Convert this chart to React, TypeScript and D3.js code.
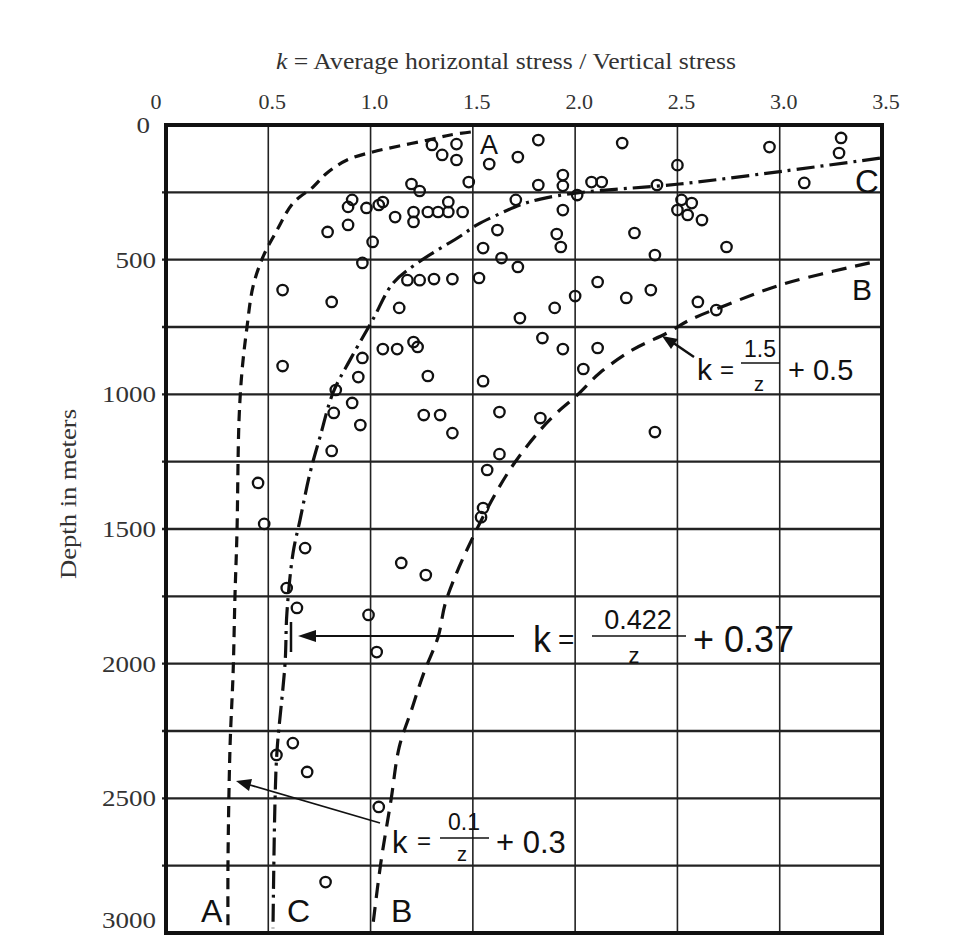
import * as d3 from 'd3';

// k values on the x axis (top), depth on the y axis (downwards)
const kTicks = [0, 0.5, 1.0, 1.5, 2.0, 2.5, 3.0, 3.5];
const kTickLabels = ['0', '0.5', '1.0', '1.5', '2.0', '2.5', '3.0', '3.5'];
const depthTicks = [0, 500, 1000, 1500, 2000, 2500, 3000];
const depthGrid = [250, 500, 750, 1000, 1250, 1500, 1750, 2000, 2250, 2500, 2750];
const kGrid = [0.5, 1.0, 1.5, 2.0, 2.5, 3.0];

const pointK = [
  1.30, 1.35, 1.42, 1.42, 1.58, 1.72, 1.82, 2.23, 2.95, 3.30, 3.29, 2.50,
  1.48, 1.20, 1.24, 1.06, 1.38, 1.12, 1.21, 1.21, 1.28, 1.33, 1.38, 1.45,
  1.71, 1.62, 1.82, 1.94, 1.94, 2.01, 2.08, 2.13, 2.40, 3.12, 2.52, 2.57,
  2.55, 2.62, 2.50, 1.94, 1.91, 1.93, 2.29, 2.39, 2.74, 1.64, 1.72, 0.91,
  0.89, 0.98, 1.04, 0.89, 0.79, 1.01, 0.96, 1.55, 1.18, 1.24, 1.31, 1.40,
  1.53, 1.14, 0.57, 0.81, 1.06, 1.13, 1.21, 1.23, 0.96, 0.57, 0.94, 1.28,
  1.55, 0.83, 2.11, 2.00, 1.90, 1.73, 2.25, 2.37, 2.60, 2.69, 1.84, 1.94,
  2.11, 2.04, 1.83, 2.39, 0.91, 0.82, 0.95, 0.81, 1.26, 1.34, 1.40, 1.63,
  1.63, 1.57, 1.55, 1.54, 0.45, 0.48, 0.68, 1.15, 1.27, 0.59, 0.64, 0.99,
  1.03, 0.62, 0.54, 0.69, 1.04, 0.78,
];
const pointDepth = [
  74, 111, 71, 130, 145, 119, 56, 67, 82, 48, 104, 149,
  212, 219, 245, 286, 286, 342, 323, 360, 323, 323, 323, 323,
  278, 390, 223, 186, 226, 260, 212, 212, 223, 215, 278, 290,
  334, 353, 316, 316, 405, 453, 401, 483, 453, 494, 527, 278,
  304, 308, 297, 371, 397, 434, 512, 457, 576, 576, 572, 572,
  568, 679, 613, 657, 832, 832, 806, 824, 865, 895, 936, 932,
  951, 984, 583, 635, 679, 717, 642, 613, 657, 687, 791, 832,
  828, 906, 1088, 1140, 1032, 1069, 1114, 1210, 1077, 1077, 1144, 1066,
  1222, 1281, 1422, 1456, 1329, 1481, 1571, 1626, 1671, 1719, 1793, 1819,
  1957, 2295, 2339, 2402, 2532, 2811,
];

// curve A: k = 0.1/z + 0.3 (lower bound)
const curveAK = [1.49, 1.39, 1.28, 1.14, 1.01, 0.885, 0.787, 0.719, 0.621, 0.543, 0.474, 0.425, 0.396, 0.372, 0.357, 0.347, 0.337, 0.328, 0.313, 0.303, 0.303];
const curveADepth = [26, 37, 56, 78, 100, 130, 178, 230, 290, 390, 490, 601, 750, 910, 1095, 1511, 1753, 2035, 2309, 2740, 2990];

// curve B: k = 1.5/z + 0.5 (upper bound)
const curveBK = [3.44, 3.02, 2.74, 2.56, 2.45, 2.28, 2.12, 2.01, 1.91, 1.83, 1.68, 1.51, 1.37, 1.33, 1.26, 1.20, 1.14, 1.10, 1.05, 1.01];
const curveBDepth = [512, 590, 668, 724, 772, 835, 921, 1003, 1069, 1132, 1281, 1515, 1764, 1901, 2035, 2172, 2310, 2506, 2740, 2980];

// curve C: k = 0.422/z + 0.37 (mean)
const curveCK = [3.49, 3.02, 2.51, 2.01, 1.83, 1.73, 1.63, 1.52, 1.44, 1.23, 1.11, 1.01, 0.899, 0.816, 0.753, 0.704, 0.655, 0.621, 0.591, 0.582, 0.543, 0.533, 0.523];
const curveCDepth = [123, 171, 219, 252, 275, 297, 330, 371, 412, 512, 587, 724, 873, 995, 1158, 1292, 1467, 1589, 1812, 1998, 2321, 2506, 2982];

const serif = '"Liberation Serif", "Times New Roman", serif';
const sans = '"Liberation Sans", Arial, sans-serif';

export default function App() {
  const x = d3.scaleLinear().domain([0, 3.5]).range([166, 882]);
  const y = d3.scaleLinear().domain([0, 3000]).range([125, 933]);

  const makePath = (ks: number[], ds: number[]) =>
    d3
      .line<number>()
      .x((k) => x(k))
      .y((_, i) => y(ds[i]))
      .curve(d3.curveCatmullRom.alpha(0.5))(ks) || '';

  return (
    <svg
      width={960}
      height={951}
      style={{ position: 'absolute', left: 0, top: 0, background: '#fff' }}
    >
      {/* axis titles */}
      <text
        x={506}
        y={69}
        textAnchor="middle"
        fontFamily={serif}
        fontSize={24}
        fill="#333"
        textLength={460}
        lengthAdjust="spacingAndGlyphs"
      >
        <tspan fontStyle="italic">k</tspan> = Average horizontal stress / Vertical stress
      </text>
      <text
        transform="translate(76,494) rotate(-90)"
        textAnchor="middle"
        fontFamily={serif}
        fontSize={23}
        fill="#333"
        textLength={170}
        lengthAdjust="spacingAndGlyphs"
      >
        Depth in meters
      </text>

      {/* k tick labels */}
      {kTicks.map((k, i) => (
        <text
          key={'kt' + i}
          x={x(k) + (k === 0 ? -10 : 4)}
          y={109}
          textAnchor="middle"
          fontFamily={serif}
          fontSize={22}
          fill="#333"
        >
          {kTickLabels[i]}
        </text>
      ))}

      {/* depth tick labels */}
      {depthTicks.map((d) => {
        const label = String(d);
        const right = d === 0 ? 150 : 156;
        const w = label.length * 13.5;
        return (
          <text
            key={'dt' + d}
            x={right - w}
            y={y(d) + (d === 3000 ? -13 : 0)}
            dy="0.35em"
            fontFamily={serif}
            fontSize={23}
            fill="#333"
            textLength={w}
            lengthAdjust="spacingAndGlyphs"
          >
            {label}
          </text>
        );
      })}

      {/* grid */}
      {kGrid.map((k) => (
        <line key={'gk' + k} x1={x(k)} x2={x(k)} y1={y(0)} y2={y(3000)} stroke="#222" strokeWidth={1.6} />
      ))}
      {depthGrid.map((d) => (
        <line key={'gd' + d} x1={x(0) - 4} x2={x(3.5)} y1={y(d)} y2={y(d)} stroke="#222" strokeWidth={2.4} />
      ))}
      <rect
        x={x(0)}
        y={y(0)}
        width={x(3.5) - x(0)}
        height={y(3000) - y(0)}
        fill="none"
        stroke="#111"
        strokeWidth={4}
      />

      {/* curves */}
      <path d={makePath(curveAK, curveADepth)} fill="none" stroke="#111" strokeWidth={3.2} strokeDasharray="11 7" />
      <path d={makePath(curveBK, curveBDepth)} fill="none" stroke="#111" strokeWidth={3.2} strokeDasharray="15 9" />
      <path d={makePath(curveCK, curveCDepth)} fill="none" stroke="#111" strokeWidth={3.2} strokeDasharray="18 6 3 6" />

      {/* measurements */}
      {pointK.map((k, i) => (
        <circle key={'p' + i} cx={x(k)} cy={y(pointDepth[i])} r={5.2} fill="none" stroke="#111" strokeWidth={2.3} />
      ))}

      {/* curve labels */}
      <g fontFamily={sans} fill="#111">
        <text x={480} y={154} fontSize={27}>A</text>
        <text x={855} y={193} fontSize={33}>C</text>
        <text x={852} y={300} fontSize={30}>B</text>
        <text x={201} y={922} fontSize={32}>A</text>
        <text x={287} y={922} fontSize={32}>C</text>
        <text x={391} y={922} fontSize={32}>B</text>
      </g>

      {/* formula for B */}
      <g fontFamily={sans} fill="#111">
        <line x1={694} y1={357} x2={672} y2={342} stroke="#111" strokeWidth={2.5} />
        <path d="M662,336 L678,339 L671,349 Z" fill="#111" />
        <text x={697} y={380} fontSize={30}>k</text>
        <text x={720} y={378} fontSize={24}>=</text>
        <text x={760} y={357} fontSize={23} textAnchor="middle">1.5</text>
        <line x1={741} x2={780} y1={363} y2={363} stroke="#111" strokeWidth={1.5} />
        <text x={759} y={391} fontSize={20} textAnchor="middle">z</text>
        <text x={788} y={380} fontSize={29}>+ 0.5</text>
      </g>

      {/* formula for C */}
      <g fontFamily={sans} fill="#111">
        <line x1={514} x2={312} y1={636} y2={636} stroke="#111" strokeWidth={1.8} />
        <path d="M298,636 L316,630 L316,642 Z" fill="#111" />
        <line x1={291} x2={291} y1={622} y2={652} stroke="#111" strokeWidth={2.5} />
        <text x={533} y={652} fontSize={36}>k</text>
        <text x={558} y={649} fontSize={28}>=</text>
        <text x={638} y={629} fontSize={27} textAnchor="middle">0.422</text>
        <text x={634} y={663} fontSize={22} textAnchor="middle">z</text>
        <line x1={592} x2={686} y1={636} y2={636} stroke="#111" strokeWidth={1.6} />
        <text x={693} y={652} fontSize={36}>+ 0.37</text>
      </g>

      {/* formula for A */}
      <g fontFamily={sans} fill="#111">
        <line x1={380} y1={823} x2={250} y2={785} stroke="#111" strokeWidth={1.8} />
        <path d="M236,781 L252,779 L249,791 Z" fill="#111" />
        <text x={392} y={853} fontSize={31}>k</text>
        <text x={417} y={849} fontSize={24}>=</text>
        <text x={464} y={830} fontSize={23} textAnchor="middle">0.1</text>
        <line x1={440} x2={489} y1={838} y2={838} stroke="#111" strokeWidth={1.5} />
        <text x={462} y={861} fontSize={20} textAnchor="middle">z</text>
        <text x={496} y={853} fontSize={31}>+ 0.3</text>
      </g>
    </svg>
  );
}
